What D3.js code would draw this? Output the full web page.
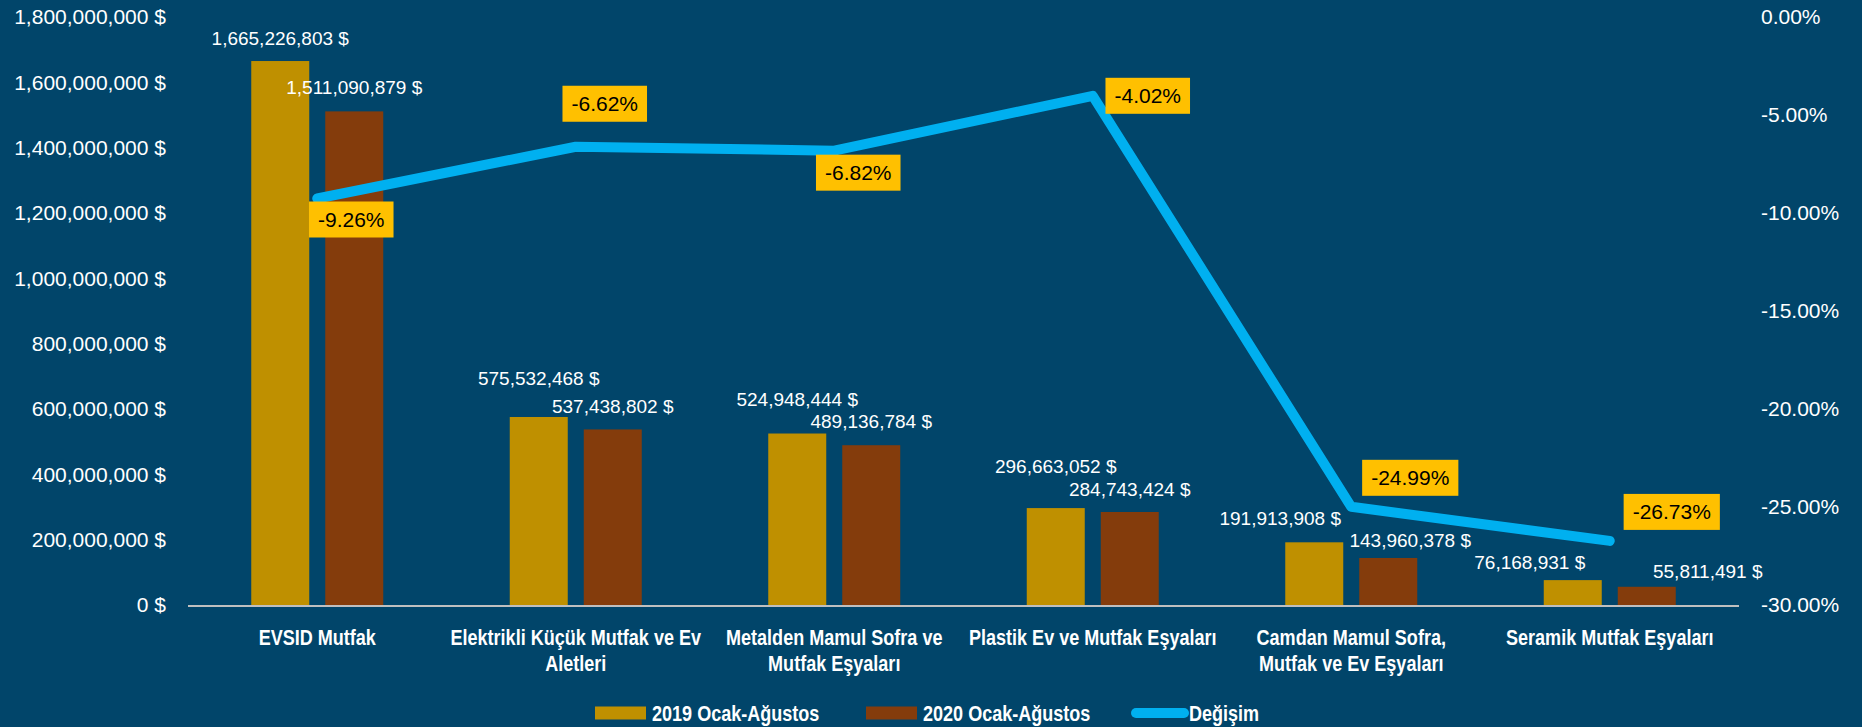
<!DOCTYPE html>
<html>
<head>
<meta charset="utf-8">
<script src="https://cdn.jsdelivr.net/npm/d3@7"></script>
<style>
	body { margin: 0; background: #01456a; }
	svg { display: block; }
	.tick text { fill: #fff; font-family: "Liberation Sans", Arial, sans-serif; font-size: 21px; }
	.cat, .legend text { fill: #fff; font-family: "Liberation Sans", Arial, sans-serif; font-weight: bold; font-size: 22px; }
</style>
</head>
<body>
<div id="chart"></div>
<script>
// chart data
var categories = [ "EVSID Mutfak", "Elektrikli Küçük Mutfak ve Ev Aletleri", "Metalden Mamul Sofra ve Mutfak Eşyaları",
	"Plastik Ev ve Mutfak Eşyaları", "Camdan Mamul Sofra, Mutfak ve Ev Eşyaları", "Seramik Mutfak Eşyaları" ];
// wrapped axis labels, as shown
var categoryLines = [ [ "EVSID Mutfak" ], [ "Elektrikli Küçük Mutfak ve Ev", "Aletleri" ], [ "Metalden Mamul Sofra ve", "Mutfak Eşyaları" ],
	[ "Plastik Ev ve Mutfak Eşyaları" ], [ "Camdan Mamul Sofra,", "Mutfak ve Ev Eşyaları" ], [ "Seramik Mutfak Eşyaları" ] ];
var seriesNames = [ "2019 Ocak-Ağustos", "2020 Ocak-Ağustos" ];
var values2019 = [ 1665226803, 575532468, 524948444, 296663052, 191913908, 76168931 ];
var values2020 = [ 1511090879, 537438802, 489136784, 284743424, 143960378, 55811491 ];
var change = [ -0.0926, -0.0662, -0.0682, -0.0402, -0.2499, -0.2673 ];
var lineName = "Değişim";
var leftTicks = [ 0, 2e8, 4e8, 6e8, 8e8, 10e8, 12e8, 14e8, 16e8, 18e8 ];
var rightTicks = [ 0, -0.05, -0.10, -0.15, -0.20, -0.25, -0.30 ];

// label nudges (dx, dy) used in the original layout
var labelOffset2019 = [ [ 0, -23 ], [ 0, -39 ], [ 0, -34 ], [ 0, -42 ], [ -34, -24 ], [ -43, -18 ] ];
var labelOffset2020 = [ [ 0, -24 ], [ 0, -23 ], [ 0, -24 ], [ 0, -23 ], [ 22, -18 ], [ 61, -15 ] ];
var pctOffset = [ [ 34, 21 ], [ 29, -43 ], [ 24, 22 ], [ 55, 0 ], [ 59, -29 ], [ 62, -29 ] ];

var colors = { y2019: "#bf9000", y2020: "#843c0c", line: "#00b0f0", box: "#ffc000" };

var W = 1862, H = 727;
var plot = { left: 188, right: 1739, top: 17, bottom: 605 };
var narrow = 0.82; // squeeze for the condensed label font

var svg = d3.select( "#chart" ).append( "svg" )
	.attr( "width", W )
	.attr( "height", H );

var x = d3.scaleBand()
	.domain( categories )
	.range( [ plot.left, plot.right ] );

var xs = d3.scaleBand()
	.domain( seriesNames )
	.range( [ 0, 132 ] )
	.paddingInner( 16 / 74 );

var innerShift = ( x.bandwidth() - 132 ) / 2;

var y = d3.scaleLinear().domain( [ 0, 1.8e9 ] ).range( [ plot.bottom, plot.top ] );
var y2 = d3.scaleLinear().domain( [ -0.30, 0 ] ).range( [ plot.bottom, plot.top ] );

var moneyFmt = function( v ) { return d3.format( "," )( v ) + " $"; };
var pctFmt = function( v ) { return d3.format( ".2%" )( v ).replace( "\u2212", "-" ); };

// left axis
svg.append( "g" )
	.attr( "transform", "translate(" + plot.left + ",0)" )
	.call( d3.axisLeft( y ).tickValues( leftTicks ).tickSize( 0 ).tickPadding( 22 ).tickFormat( moneyFmt ) )
	.call( function( g ) { g.select( ".domain" ).remove(); } );

// right axis
svg.append( "g" )
	.attr( "transform", "translate(" + plot.right + ",0)" )
	.call( d3.axisRight( y2 ).tickValues( rightTicks ).tickSize( 0 ).tickPadding( 22 ).tickFormat( pctFmt ) )
	.call( function( g ) { g.select( ".domain" ).remove(); } );

// bars
var rows = categories.map( function( c, i ) {
	return [
		{ cat: c, s: seriesNames[ 0 ], v: values2019[ i ], color: colors.y2019, off: labelOffset2019[ i ] },
		{ cat: c, s: seriesNames[ 1 ], v: values2020[ i ], color: colors.y2020, off: labelOffset2020[ i ] }
	];
} );
var flat = d3.merge( rows );

svg.append( "g" ).selectAll( "rect" )
	.data( flat )
	.enter().append( "rect" )
	.attr( "x", function( d ) { return x( d.cat ) + innerShift + xs( d.s ); } )
	.attr( "y", function( d ) { return y( d.v ); } )
	.attr( "width", xs.bandwidth() )
	.attr( "height", function( d ) { return y( 0 ) - y( d.v ); } )
	.style( "fill", function( d ) { return d.color; } );

// x axis line
svg.append( "line" )
	.attr( "x1", plot.left ).attr( "x2", plot.right )
	.attr( "y1", y( 0 ) + 1 ).attr( "y2", y( 0 ) + 1 )
	.style( "stroke", "#bfbfbf" ).style( "stroke-width", 2 );

// bar value labels
svg.append( "g" ).selectAll( "text" )
	.data( flat )
	.enter().append( "text" )
	.attr( "x", function( d ) { return x( d.cat ) + innerShift + xs( d.s ) + xs.bandwidth() / 2 + d.off[ 0 ]; } )
	.attr( "y", function( d ) { return y( d.v ) + d.off[ 1 ]; } )
	.attr( "dy", "0.35em" )
	.attr( "text-anchor", "middle" )
	.style( "fill", "#fff" )
	.style( "font-family", "'Liberation Sans', Arial, sans-serif" )
	.style( "font-size", "19px" )
	.text( function( d ) { return moneyFmt( d.v ); } );

// category labels
var catG = svg.append( "g" ).selectAll( "text" )
	.data( categories )
	.enter().append( "text" )
	.attr( "class", "cat" )
	.attr( "text-anchor", "middle" )
	.attr( "transform", function( d ) { return "translate(" + ( x( d ) + x.bandwidth() / 2 ) + ",637) scale(" + narrow + ",1)"; } );
catG.selectAll( "tspan" )
	.data( function( d, i ) { return categoryLines[ i ]; } )
	.enter().append( "tspan" )
	.attr( "x", 0 )
	.attr( "dy", function( d, i ) { return i === 0 ? "0.35em" : "26px"; } )
	.text( function( d ) { return d; } );

// change line
var pts = categories.map( function( c, i ) {
	return { cat: c, v: change[ i ], off: pctOffset[ i ], px: x( c ) + x.bandwidth() / 2, py: y2( change[ i ] ) };
} );

svg.append( "path" )
	.datum( pts )
	.attr( "d", d3.line().x( function( d ) { return d.px; } ).y( function( d ) { return d.py; } ) )
	.style( "fill", "none" )
	.style( "stroke", colors.line )
	.style( "stroke-width", 10 )
	.style( "stroke-linejoin", "round" )
	.style( "stroke-linecap", "round" );

// percent labels in boxes
var pg = svg.append( "g" ).selectAll( "g" )
	.data( pts )
	.enter().append( "g" )
	.attr( "transform", function( d ) { return "translate(" + ( d.px + d.off[ 0 ] ) + "," + ( d.py + d.off[ 1 ] ) + ")"; } );
pg.append( "rect" ).style( "fill", colors.box );
pg.append( "text" )
	.attr( "text-anchor", "middle" )
	.attr( "dy", "0.35em" )
	.style( "fill", "#000" )
	.style( "font-family", "'Liberation Sans', Arial, sans-serif" )
	.style( "font-size", "21px" )
	.text( function( d ) { return pctFmt( d.v ); } );
pg.each( function() {
	var g = d3.select( this );
	var w = g.select( "text" ).node().getComputedTextLength() + 18;
	g.select( "rect" ).attr( "x", -w / 2 ).attr( "y", -18 ).attr( "width", w ).attr( "height", 36 );
} );

// legend
var legend = svg.append( "g" ).attr( "class", "legend" );
var legendItems = [
	{ name: seriesNames[ 0 ], color: colors.y2019, x: 595, type: "bar" },
	{ name: seriesNames[ 1 ], color: colors.y2020, x: 866, type: "bar" },
	{ name: lineName, color: colors.line, x: 1131, type: "line" }
];
var li = legend.selectAll( "g" )
	.data( legendItems )
	.enter().append( "g" )
	.attr( "transform", function( d ) { return "translate(" + d.x + ",713)"; } );
li.filter( function( d ) { return d.type === "bar"; } )
	.append( "rect" )
	.attr( "x", 0 ).attr( "y", -6.5 ).attr( "width", 51 ).attr( "height", 13 )
	.style( "fill", function( d ) { return d.color; } );
li.filter( function( d ) { return d.type === "line"; } )
	.append( "line" )
	.attr( "x1", 5 ).attr( "x2", 53 ).attr( "y1", 0 ).attr( "y2", 0 )
	.style( "stroke", function( d ) { return d.color; } )
	.style( "stroke-width", 10 )
	.style( "stroke-linecap", "round" );
li.append( "text" )
	.attr( "transform", function( d ) { return "translate(" + ( d.type === "bar" ? 57 : 58 ) + ",0) scale(" + narrow + ",1)"; } )
	.attr( "dy", "0.35em" )
	.text( function( d ) { return d.name; } );
</script>
</body>
</html>
